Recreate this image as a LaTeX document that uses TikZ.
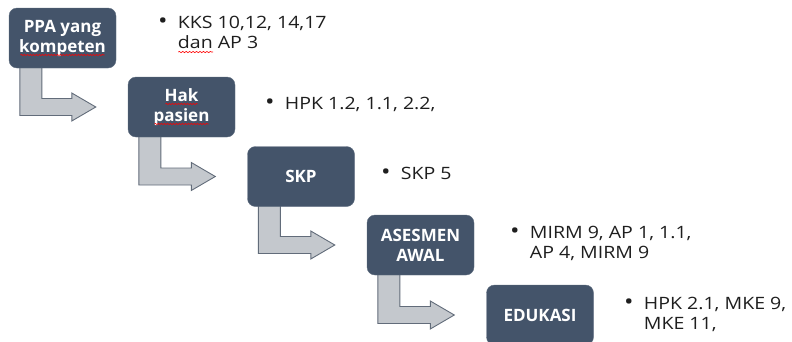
\documentclass[tikz,border=0pt]{standalone}
\usepackage{fontspec}
\setmainfont{Open Sans}
\usetikzlibrary{calc,backgrounds,decorations.pathmorphing}
\definecolor{boxfill}{RGB}{68,84,106}
\definecolor{arrowfill}{RGB}{196,200,205}
\definecolor{arrowline}{RGB}{98,108,122}
\definecolor{reftext}{RGB}{30,30,30}
\newsavebox{\spellbox}
\newlength{\spellwd}
\newcommand{\spell}[1]{\sbox{\spellbox}{#1}\setlength{\spellwd}{\wd\spellbox}%
  \rlap{\tikz[baseline=0pt]\path[draw=red, fill=none, sharp corners, line width=0.6pt, decorate,
    decoration={snake, amplitude=0.6pt, segment length=3pt}] (0pt,-3.5pt) -- (\spellwd,-3.5pt);}\usebox{\spellbox}}
\newcommand{\refdot}{{\fontsize{22}{22}\selectfont\textbullet}\ \ }

\begin{document}
\begin{tikzpicture}[x=1pt,y=-1pt,
    stage/.style ={rounded corners=8pt, fill=boxfill, draw=boxfill!85!white, minimum width=107pt, minimum height=60pt,
                   inner sep=0pt, text=white, align=center, font=\fontsize{17}{20}\selectfont\bfseries},
    refs/.style ={anchor=north west, inner sep=0pt, align=left, text=reftext, xscale=1.15, transform shape,
                   font=\fontsize{17}{20}\selectfont},
    bent/.style ={fill=arrowfill, draw=arrowline, line width=0.9pt},
    squig/.style ={draw=red, line width=0.6pt, decorate, decoration={snake, amplitude=0.6pt, segment length=3pt}}]
   \useasboundingbox (0,0) rectangle (792,341);
   % stages
   \node[stage] (ppa)      at (62.5,38)   {PPA yang\\kompeten};
   \node[stage] (hak)      at (181.5,107) {Hak\\pasien};
   \node[stage] (skp)      at (301,176.5) {SKP};
   \node[stage] (asesmen)  at (420.5,245) {ASESMEN\\AWAL};
   \node[stage] (edukasi)  at (540,315)   {EDUKASI};
   % spelling marks
   \draw[squig] ($(ppa.center)+(-42,17)$) -- ($(ppa.center)+(42,17)$);
   \draw[squig] ($(hak.center)+(-16,-3)$) -- ($(hak.center)+(16,-3)$);
   \draw[squig] ($(hak.center)+(-27,17)$) -- ($(hak.center)+(27,17)$);
   % standards
   \node[refs] (kks)  at (158,16)  {\refdot KKS 10,12, 14,17\\\phantom{\refdot}\spell{dan} AP 3};
   \node[refs] (hpk)  at (265,97)  {\refdot HPK 1.2, 1.1, 2.2,};
   \node[refs] (skp5) at (381,167) {\refdot SKP 5};
   \node[refs] (mirm) at (510,226) {\refdot MIRM 9, AP 1, 1.1,\\\phantom{\refdot}AP 4, MIRM 9};
   \node[refs] (mke)  at (624,297) {\refdot HPK 2.1, MKE 9,\\\phantom{\refdot}MKE 11,};
   % bent arrows
   \begin{scope}[on background layer]
   \foreach \a/\b in {ppa/hak, hak/skp, skp/asesmen, asesmen/edukasi}
     \draw[bent] ($(\a.south west)+(11,-2)$) |- ($(\b.west)+(-56,8.5)$) -- ++(0,5.5)
        -- ($(\b.west)+(-32,0)$) -- ($(\b.west)+(-56,-14)$) -- ++(0,5.5) -| ($(\a.south west)+(33,-2)$);
   \end{scope}
 \end{tikzpicture}
\end{document}
